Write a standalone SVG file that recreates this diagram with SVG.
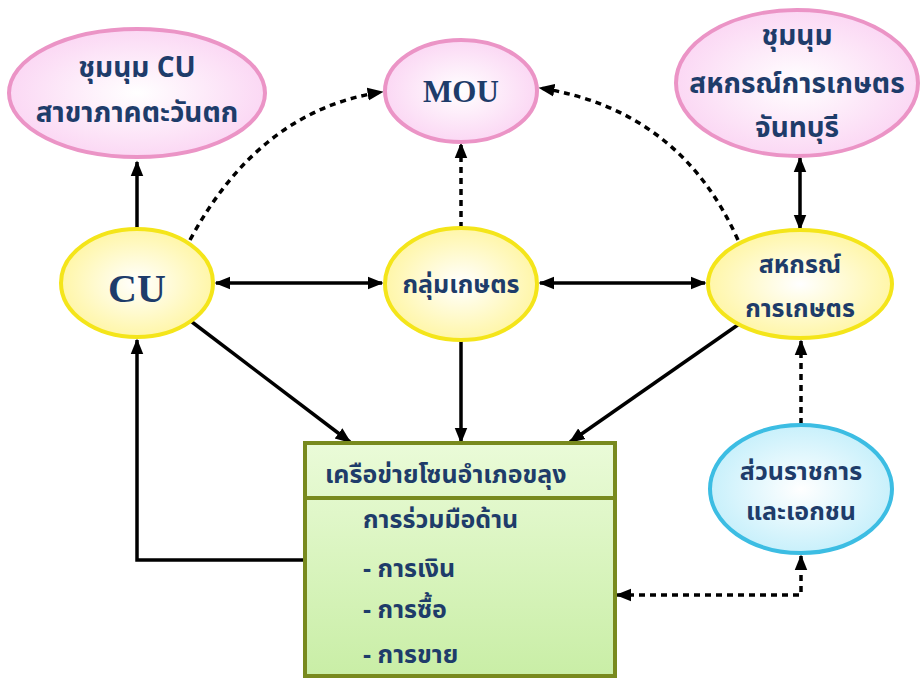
<svg xmlns="http://www.w3.org/2000/svg" width="920" height="678" viewBox="0 0 920 678">
<defs>
<radialGradient id="gPink" cx="50%" cy="50%" r="50%"><stop offset="0" stop-color="#ffffff"/><stop offset="1" stop-color="#fbd8f4"/></radialGradient>
<radialGradient id="gYel" cx="50%" cy="50%" r="50%"><stop offset="0" stop-color="#ffffff"/><stop offset="1" stop-color="#fff6a8"/></radialGradient>
<radialGradient id="gBlue" cx="50%" cy="50%" r="50%"><stop offset="0" stop-color="#ffffff"/><stop offset="1" stop-color="#c8f0fb"/></radialGradient>
<linearGradient id="gGreen" x1="0" y1="0" x2="0" y2="1"><stop offset="0" stop-color="#eafbd8"/><stop offset="1" stop-color="#c9eea6"/></linearGradient>
<marker id="ahb" viewBox="0 0 10 10" refX="9" refY="5" markerWidth="16" markerHeight="16" markerUnits="userSpaceOnUse" orient="auto-start-reverse"><path d="M0,1 L10,5 L0,9 z" fill="#000"/></marker>
</defs>
<style>
.pink{fill:url(#gPink);stroke:#eb94c6;stroke-width:4}
.yel{fill:url(#gYel);stroke:#f4e51a;stroke-width:4}
.blue{fill:url(#gBlue);stroke:#3cbde3;stroke-width:4}
.box{fill:url(#gGreen);stroke:#788a1e;stroke-width:4}
.t{font-family:"Noto Sans Thai","Noto Serif Thai","Liberation Serif",serif;font-weight:bold;fill:#1e3c6a;font-size:25px}
.big{font-size:28px}
.c{text-anchor:middle}
.lat{font-family:"Liberation Serif",serif;font-weight:bold;fill:#1e3c6a}
.ln{fill:none;stroke:#000;stroke-width:3.5}
.dash{stroke-dasharray:6 5}
</style>
<g id="connectors">
<path class="ln" d="M137,229 L137,162" marker-end="url(#ahb)"/>
<path class="ln dash" d="M190,240 Q260,110 382,92" marker-end="url(#ahb)"/>
<path class="ln dash" d="M461,228 L461,144" marker-end="url(#ahb)"/>
<path class="ln dash" d="M738,240 Q680,110 540,88" marker-end="url(#ahb)"/>
<path class="ln" d="M800,229 L800,158" marker-start="url(#ahb)" marker-end="url(#ahb)"/>
<path class="ln" d="M216,283 L382,283" marker-start="url(#ahb)" marker-end="url(#ahb)"/>
<path class="ln" d="M540,283 L705,283" marker-start="url(#ahb)" marker-end="url(#ahb)"/>
<path class="ln" d="M192,322 L350,442" marker-end="url(#ahb)"/>
<path class="ln" d="M461,340 L461,442" marker-end="url(#ahb)"/>
<path class="ln" d="M742,322 L570,442" marker-end="url(#ahb)"/>
<path class="ln" d="M305,560 L137,560 L137,340" marker-end="url(#ahb)"/>
<path class="ln dash" d="M801,424 L801,341" marker-end="url(#ahb)"/>
<path class="ln dash" d="M617,595 L801,595 L801,556" marker-start="url(#ahb)" marker-end="url(#ahb)"/>
</g>
<g id="n_cu_west">
<ellipse class="pink" cx="137" cy="93" rx="128" ry="64"/>
<text class="t big c" x="137" y="77">ชุมนุม CU</text>
<text class="t big c" x="137" y="122">สาขาภาคตะวันตก</text>
</g>
<g id="n_mou">
<ellipse class="pink" cx="461" cy="91" rx="76" ry="51"/>
<text class="lat c" x="461" y="102" font-size="31">MOU</text>
</g>
<g id="n_coop_chan">
<ellipse class="pink" cx="797" cy="83" rx="121" ry="73"/>
<text class="t big c" x="797" y="45">ชุมนุม</text>
<text class="t big c" x="797" y="93">สหกรณ์การเกษตร</text>
<text class="t big c" x="797" y="137">จันทบุรี</text>
</g>
<g id="n_cu">
<ellipse class="yel" cx="137" cy="283" rx="76" ry="54"/>
<text class="lat c" x="137" y="302" font-size="40">CU</text>
</g>
<g id="n_farm">
<ellipse class="yel" cx="461" cy="284" rx="76" ry="56"/>
<text class="t c" x="461" y="293">กลุ่มเกษตร</text>
</g>
<g id="n_coop">
<ellipse class="yel" cx="800" cy="284" rx="92" ry="54"/>
<text class="t c" x="800" y="273">สหกรณ์</text>
<text class="t c" x="800" y="317">การเกษตร</text>
</g>
<g id="n_gov">
<ellipse class="blue" cx="801" cy="489" rx="91" ry="64"/>
<text class="t c" x="801" y="480" font-size="27">ส่วนราชการ</text>
<text class="t c" x="801" y="520" font-size="27">และเอกชน</text>
</g>
<g id="n_network">
<rect class="box" x="305" y="443" width="310" height="233"/>
<line x1="305" y1="498" x2="615" y2="498" stroke="#788a1e" stroke-width="4"/>
<text class="t" x="325" y="483">เครือข่ายโซนอำเภอขลุง</text>
<text class="t" x="363" y="528">การร่วมมือด้าน</text>
<text class="t" x="363" y="577">- การเงิน</text>
<text class="t" x="363" y="618">- การซื้อ</text>
<text class="t" x="363" y="663">- การขาย</text>
</g>
</svg>
